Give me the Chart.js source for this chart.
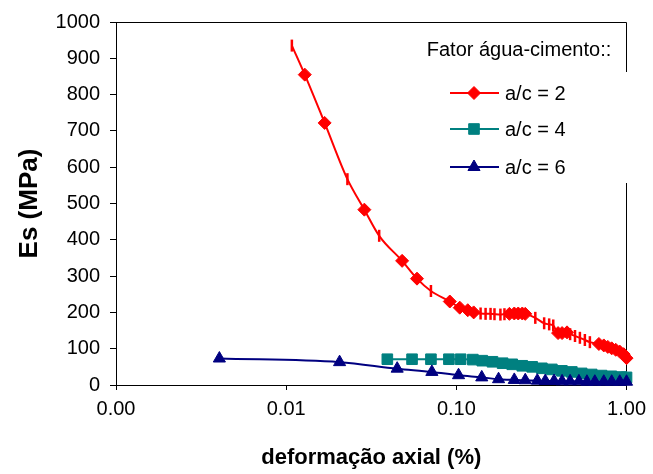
<!DOCTYPE html>
<html><head><meta charset="utf-8">
<script src="https://cdn.jsdelivr.net/npm/chart.js@4/dist/chart.umd.min.js"></script>
<style>html,body{margin:0;padding:0;background:#fff;} #wrap{width:653px;height:474px;position:relative;}</style>
</head><body><div id="wrap"><canvas id="c" width="653" height="474"></canvas></div>
<script>
// ---- data ----
const xTickValues = [0.001, 0.01, 0.1, 1];
const yTickMin = 0, yTickMax = 1000, yTickStep = 100;
const xTitle = 'deformação axial (%)';
const yTitle = 'Es (MPa)';
const legendTitle = 'Fator água-cimento::';
const seriesNames = ['a/c = 2', 'a/c = 4', 'a/c = 6'];

// a/c = 2 : points drawn with diamonds
const ac2DiamondStrain = [0.01286,0.01683,0.0288,0.0480,0.0587,0.0915,0.1047,0.1167,0.1264,0.205,0.219,0.231,0.244,0.254,0.396,0.418,0.447,0.688,0.735,0.776,0.818,0.864,0.912,0.962,1.0];
const ac2DiamondEs     = [855,722,483,342,293,230,213,206,200,196,197,197,197,196,143,143,145,113,109,105,101,97,92,85,74];
// a/c = 2 : points drawn with vertical dashes
const ac2TickStrain = [0.0108,0.0229,0.0352,0.0709,0.1388,0.1485,0.1588,0.1675,0.1815,0.1917,0.291,0.328,0.351,0.371,0.466,0.498,0.532,0.569,0.609];
const ac2TickEs     = [935,567,411,259,197,196,196,195,194,195,185,170,167,164,140,135,130,124,118];

// a/c = 4
const ac4Strain = [0.0393,0.0549,0.0709,0.0904,0.106,0.125,0.142,0.163,0.187,0.213,0.244,0.279,0.318,0.364,0.417,0.477,0.545,0.624,0.713,0.815,0.932,1.0];
const ac4Es     = [71,71,71,71,71,70,67,64,60,57,53,50,46,43,39,36,32,29,26,24,22,21];

// a/c = 6
const ac6Strain = [0.00405,0.0206,0.0449,0.0718,0.103,0.141,0.177,0.219,0.254,0.299,0.333,0.375,0.418,0.466,0.525,0.585,0.651,0.735,0.818,0.912,1.0];
const ac6Es     = [73,63,45,36,27,21,16,14,13,12,11,11,10,10,10,9,9,9,9,9,9];

// ---- build ----
const RED = '#FF0000', TEAL = '#008080', NAVY = '#000080';
const FONT = '"Liberation Sans", Arial, sans-serif';
const pts = (xs, ys) => xs.map((x, i) => ({x: x, y: ys[i]}));
const ac2All = pts(ac2DiamondStrain, ac2DiamondEs).concat(pts(ac2TickStrain, ac2TickEs)).sort((a, b) => a.x - b.x);

const frame = {
  id: 'frame',
  beforeDatasetsDraw(chart) {
    const {ctx, chartArea: a} = chart;
    ctx.save();
    ctx.strokeStyle = '#000'; ctx.lineWidth = 1;
    ctx.beginPath();
    ctx.moveTo(Math.round(a.left) + 0.5, Math.round(a.top) + 0.5);
    ctx.lineTo(Math.round(a.right) - 0.5, Math.round(a.top) + 0.5);
    ctx.lineTo(Math.round(a.right) - 0.5, Math.round(a.bottom) + 0.5);
    ctx.stroke();
    ctx.restore();
  }
};

const legendBox = {
  id: 'legendBox',
  afterDatasetsDraw(chart) {
    const ctx = chart.ctx;
    ctx.save();
    ctx.fillStyle = '#fff';
    ctx.fillRect(440, 72, 196, 111);
    ctx.fillStyle = '#000';
    ctx.font = '20px ' + FONT;
    ctx.textAlign = 'center'; ctx.textBaseline = 'middle';
    ctx.fillText(legendTitle, 519, 50);
    const items = [
      {c: RED, style: 'rectRot', r: 6.5, y: 93},
      {c: TEAL, style: 'rect', r: 7.5, y: 129},
      {c: NAVY, style: 'triangle', r: 7, y: 167}
    ];
    items.forEach((it, i) => {
      ctx.strokeStyle = it.c; ctx.fillStyle = it.c; ctx.lineWidth = 2;
      ctx.beginPath(); ctx.moveTo(450, it.y); ctx.lineTo(499, it.y); ctx.stroke();
      ctx.lineWidth = 1;
      Chart.helpers.drawPoint(ctx, {pointStyle: it.style, radius: it.r, rotation: 0, borderWidth: 1}, 474, it.y);
      ctx.fillStyle = '#000';
      ctx.textAlign = 'left';
      ctx.fillText(seriesNames[i], 505, it.y + 1);
    });
    ctx.restore();
  }
};

new Chart(document.getElementById('c'), {
  type: 'scatter',
  data: {
    datasets: [
      {label: seriesNames[2], data: pts(ac6Strain, ac6Es), showLine: true, borderColor: NAVY, backgroundColor: NAVY,
       borderWidth: 2, pointStyle: 'triangle', pointRadius: 7, pointBorderWidth: 1, cubicInterpolationMode: 'monotone', clip: false},
      {label: seriesNames[1], data: pts(ac4Strain, ac4Es), showLine: true, borderColor: TEAL, backgroundColor: TEAL,
       borderWidth: 2, pointStyle: 'rect', pointRadius: 7.5, pointBorderWidth: 1, cubicInterpolationMode: 'monotone', clip: false},
      {label: seriesNames[0] + ' dashes', data: pts(ac2TickStrain, ac2TickEs), showLine: false, borderColor: RED, backgroundColor: RED,
       pointStyle: 'line', pointRotation: 90, pointRadius: 6, pointBorderWidth: 2.5, clip: false},
      {label: seriesNames[0] + ' markers', data: pts(ac2DiamondStrain, ac2DiamondEs), showLine: false, borderColor: RED, backgroundColor: RED,
       pointStyle: 'rectRot', pointRadius: 6.5, pointBorderWidth: 1, clip: false},
      {label: seriesNames[0], data: ac2All, showLine: true, borderColor: RED, backgroundColor: RED,
       borderWidth: 2, pointRadius: 0, cubicInterpolationMode: 'monotone', clip: false}
    ]
  },
  options: {
    responsive: false,
    animation: false,
    events: [],
    layout: {padding: {top: 18, right: 23, left: 0, bottom: 0}},
    plugins: {legend: {display: false}, tooltip: {enabled: false}, title: {display: false}},
    scales: {
      x: {
        type: 'logarithmic', min: xTickValues[0], max: xTickValues[xTickValues.length - 1], position: 'bottom',
        afterBuildTicks: s => { s.ticks = xTickValues.map(v => ({value: v})); },
        afterFit: s => { s.height = 89; },
        ticks: {callback: v => Number(v).toFixed(2), font: {family: FONT, size: 20}, color: '#000', padding: 7, maxRotation: 0, autoSkip: false},
        grid: {display: true, drawOnChartArea: false, tickLength: 5, color: '#000', lineWidth: 1},
        border: {display: true, color: '#000', width: 1},
        title: {display: true, text: xTitle, color: '#000', font: {family: FONT, size: 22, weight: 'bold'}, padding: {top: 0, bottom: 3}}
      },
      y: {
        type: 'linear', min: yTickMin, max: yTickMax, position: 'left',
        afterFit: s => { s.width = 116; },
        ticks: {stepSize: yTickStep, callback: v => String(v), font: {family: FONT, size: 20}, color: '#000', padding: 10},
        grid: {display: true, drawOnChartArea: false, tickLength: 6, color: '#000', lineWidth: 1},
        border: {display: true, color: '#000', width: 1},
        title: {display: true, text: yTitle, color: '#000', font: {family: FONT, size: 26, weight: 'bold'}, padding: {top: 14, bottom: 0}}
      }
    }
  },
  plugins: [frame, legendBox]
});
</script>
</body></html>
